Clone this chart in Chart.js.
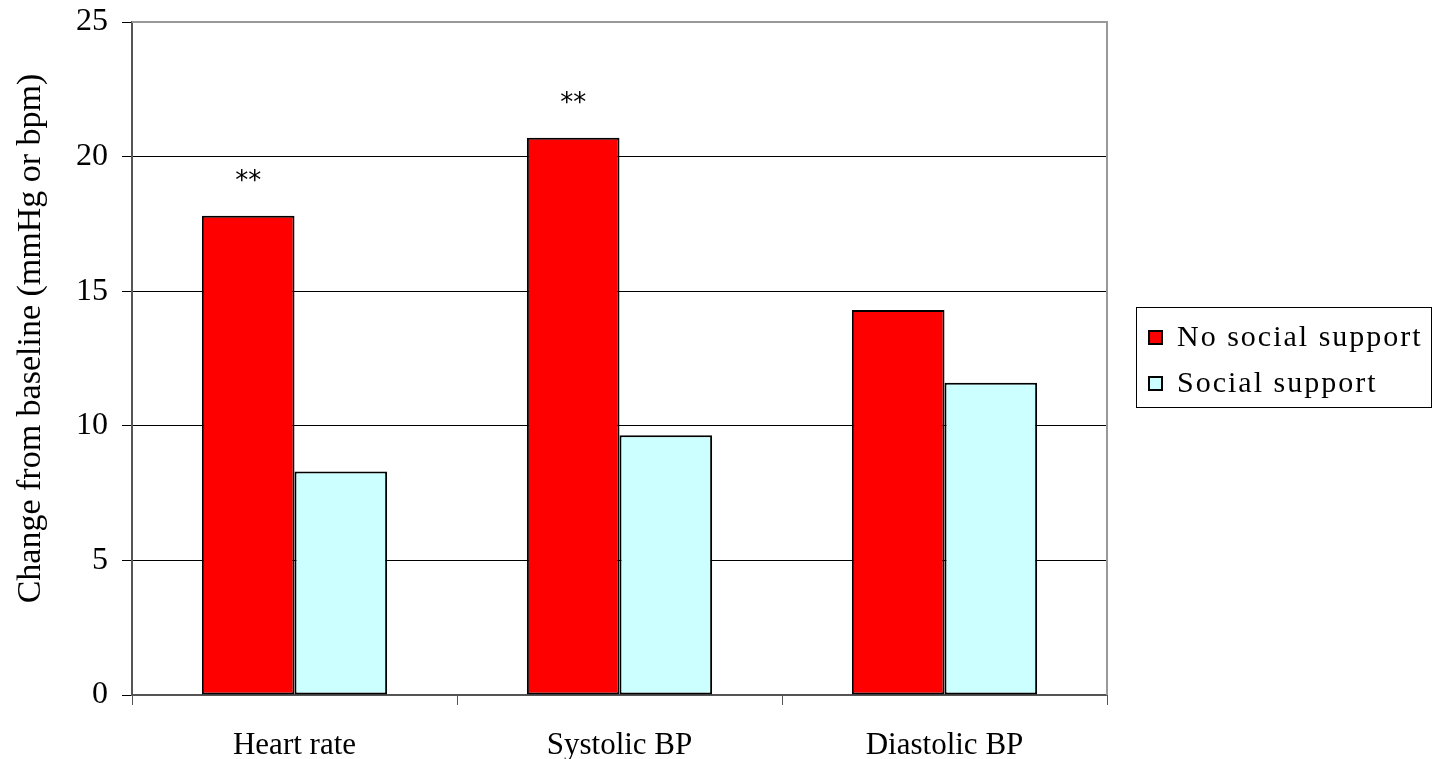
<!DOCTYPE html>
<html>
<head>
<meta charset="utf-8">
<script src="https://cdn.jsdelivr.net/npm/chart.js@4"></script>
<style>
  html, body { margin: 0; padding: 0; background: #fff; }
  #wrap { position: relative; width: 1432px; height: 759px; }
  #legend {
    position: absolute; left: 1136px; top: 307px; width: 296px; height: 101px;
    border: 1px solid #000; box-sizing: border-box;
    font-family: "Liberation Serif", "Times New Roman", serif; font-size: 30px; color: #000;
    padding: 5px 0 0 11px;
  }
  #legend div { height: 46px; line-height: 46px; white-space: nowrap; letter-spacing: 2px; }
  #legend span.sw {
    display: inline-block; width: 11px; height: 11px; border: 2px solid #000;
    margin-right: 14px; vertical-align: 1px;
  }
</style>
</head>
<body>
<div id="wrap">
  <canvas id="chart1" width="1432" height="759"></canvas>
  <div id="legend"></div>
</div>
<script>
const categories = ['Heart rate', 'Systolic BP', 'Diastolic BP'];
const noSupport = [17.8, 20.7, 14.3];
const withSupport = [8.3, 9.65, 11.6];
const stars = ['**', '**', ''];   // significance marks over the red bars
const yTicks = [0, 5, 10, 15, 20, 25];
const yTitle = 'Change from baseline (mmHg or bpm)';

const serif = '"Liberation Serif", "Times New Roman", serif';

// ** above the first dataset
const starPlugin = {
  id: 'stars',
  afterDatasetsDraw(chart) {
    const ctx = chart.ctx;
    const meta = chart.getDatasetMeta(0);
    ctx.save();
    ctx.font = '26px "DejaVu Sans", sans-serif';
    ctx.fillStyle = '#000';
    ctx.textAlign = 'center';
    ctx.textBaseline = 'middle';
    meta.data.forEach((bar, i) => {
      if (stars[i]) ctx.fillText(stars[i], bar.x, bar.y - 34);
    });
    ctx.restore();
  }
};

// gray frame on top and right side of the plot + the rotated y title
const framePlugin = {
  id: 'frame',
  afterDraw(chart) {
    const a = chart.chartArea;
    const ctx = chart.ctx;
    ctx.save();
    ctx.strokeStyle = '#999';
    ctx.lineWidth = 2;
    ctx.beginPath();
    ctx.moveTo(a.left, a.top);
    ctx.lineTo(a.right, a.top);
    ctx.lineTo(a.right, a.bottom);
    ctx.stroke();

    // title sits a bit above the plot middle in the original
    ctx.translate(31, (a.top + a.bottom) / 2 - 20);
    ctx.rotate(-Math.PI / 2);
    ctx.font = '34px ' + serif;
    ctx.fillStyle = '#000';
    ctx.textAlign = 'center';
    ctx.textBaseline = 'middle';
    ctx.fillText(yTitle, 0, 0);
    ctx.restore();
  }
};

var myChart = new Chart(document.getElementById('chart1'), {
  type: 'bar',
  data: {
    labels: categories,
    datasets: [{
      label: 'No social support',
      data: noSupport,
      backgroundColor: '#FF0000',
      borderColor: '#000',
      borderWidth: 2,
      borderSkipped: false
    }, {
      label: 'Social support',
      data: withSupport,
      backgroundColor: '#CCFFFF',
      borderColor: '#000',
      borderWidth: 2,
      borderSkipped: false
    }]
  },
  options: {
    responsive: false,
    animation: false,
    layout: { padding: { top: 20, right: 325, left: 0, bottom: 0 } },
    plugins: { legend: { display: false }, tooltip: { enabled: false } },
    datasets: { bar: { categoryPercentage: 0.57, barPercentage: 1.0 } },
    scales: {
      x: {
        offset: true,
        grid: { offset: true, drawOnChartArea: false, tickLength: 10, color: '#555', lineWidth: 1 },
        border: { color: '#555', width: 2 },
        ticks: { color: '#000', font: { family: serif, size: 31 }, padding: 22 },
        afterFit(scale) { scale.height = 64; }
      },
      y: {
        min: 0, max: 25,
        afterBuildTicks(scale) { scale.ticks = yTicks.map(v => ({ value: v })); },
        grid: { color: '#000', lineWidth: 1, tickLength: 10 },
        border: { color: '#555', width: 2 },
        ticks: { color: '#000', font: { family: serif, size: 32, lineHeight: 0.5 }, padding: 14 },
        afterFit(scale) { scale.width = 132; }
      }
    }
  },
  plugins: [starPlugin, framePlugin]
});

// legend box made from the dataset labels
const legendEl = document.getElementById('legend');
myChart.data.datasets.forEach(ds => {
  const row = document.createElement('div');
  row.innerHTML = '<span class="sw" style="background:' + ds.backgroundColor + '"></span>' + ds.label;
  legendEl.appendChild(row);
});
</script>
</body>
</html>
